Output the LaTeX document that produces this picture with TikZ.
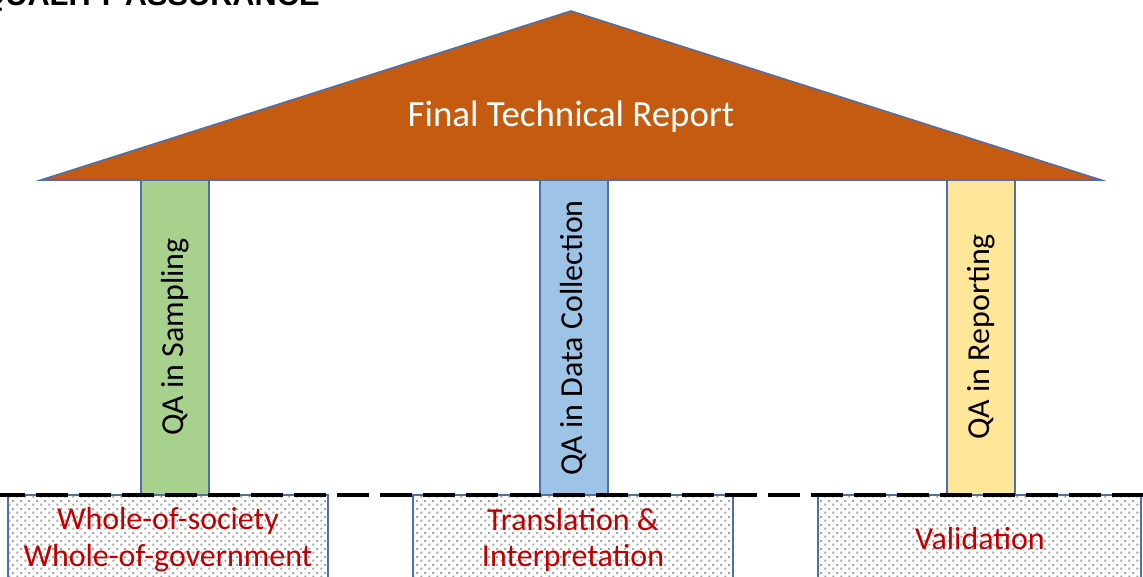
\documentclass[tikz,border=0pt]{standalone}
\usepackage{fontspec}
\setmainfont{Carlito}
\newfontfamily\titlefont{Liberation Sans}
\usetikzlibrary{patterns.meta}
\definecolor{roof}{HTML}{C55A11}
\definecolor{edge}{HTML}{4F6FA8}
\definecolor{pgreen}{HTML}{A9D18E}
\definecolor{pblue}{HTML}{9DC3E6}
\definecolor{pyellow}{HTML}{FFE699}
\definecolor{basered}{HTML}{C00000}
\tikzdeclarepattern{
  name=sparsedots,
  type=uncolored,
  bounding box={(0pt,0pt) and (4.6pt,4.6pt)},
  tile size={(4.6pt,4.6pt)},
  code={
    \pgfpathrectangle{\pgfpoint{0.3pt}{0.3pt}}{\pgfpoint{1.2pt}{1.2pt}}
    \pgfpathrectangle{\pgfpoint{2.6pt}{2.6pt}}{\pgfpoint{1.2pt}{1.2pt}}
    \pgfusepath{fill}
  }
}
\tikzset{
  pillar/.style={draw=edge, line width=1.2pt},
  pillartext/.style={rotate=90, font=\fontsize{18.2pt}{21pt}\selectfont, text=black, inner sep=0pt},
  basebox/.style={draw=edge, line width=1.1pt, pattern=sparsedots, pattern color=gray!70},
  basetext/.style={font=\fontsize{18.2pt}{21pt}\selectfont, text=basered, align=center, inner sep=0pt},
  ground/.style={line width=2.3pt, black, dash pattern=on 18.2pt off 6.3pt, dash phase=4pt}
}
\begin{document}
\begin{tikzpicture}[x=0.02cm, y=-0.02cm]
\useasboundingbox (0,0) rectangle (1143,577);
\clip (0,0) rectangle (1143,577);
% title (cut off at top in the reference)
\node[anchor=base east, inner sep=0pt, font=\titlefont\bfseries\fontsize{17.5pt}{20pt}\selectfont] (title) at (320,6) {QUALITY ASSURANCE};
% roof
\draw[fill=roof, draw=edge, line width=0.9pt] (41,180) coordinate (rl) -- (571,11) coordinate (rt) -- (1101,180) coordinate (rr) -- cycle;
\node[text=white, font=\fontsize{21pt}{24pt}\selectfont, inner sep=0pt] (roofText) at (571,117) {Final Technical Report};
% base boxes
\draw[basebox] (8,595) -- (8,495) -- (328,495) -- (328,595);
\draw[basebox] (413,595) -- (413,495) -- (733,495) -- (733,595);
\draw[basebox] (818,595) -- (818,495) -- (1141,495) -- (1141,595);
\node[basetext] (b1) at (168,540) {Whole-of-society\\[0pt]Whole-of-government};
\node[basetext] (b2) at (573,540) {Translation \&\\[0pt]Interpretation};
\node[basetext] (b3) at (980,539) {Validation};
% pillars
\draw[pillar, fill=pgreen] (141,180) rectangle (209,495);
\draw[pillar, fill=pblue] (540,180) rectangle (608,495);
\draw[pillar, fill=pyellow] (947,180) rectangle (1015,495);
\node[pillartext] (p1) at (175,337) {QA in Sampling};
\node[pillartext] (p2) at (574,338) {QA in Data Collection};
\node[pillartext] (p3) at (981,337) {QA in Reporting};
% ground line
\coordinate (g0) at (0,495);
\coordinate (g1) at (1143,495);
\draw[ground] (g0) -- (g1);
\end{tikzpicture}
\end{document}
